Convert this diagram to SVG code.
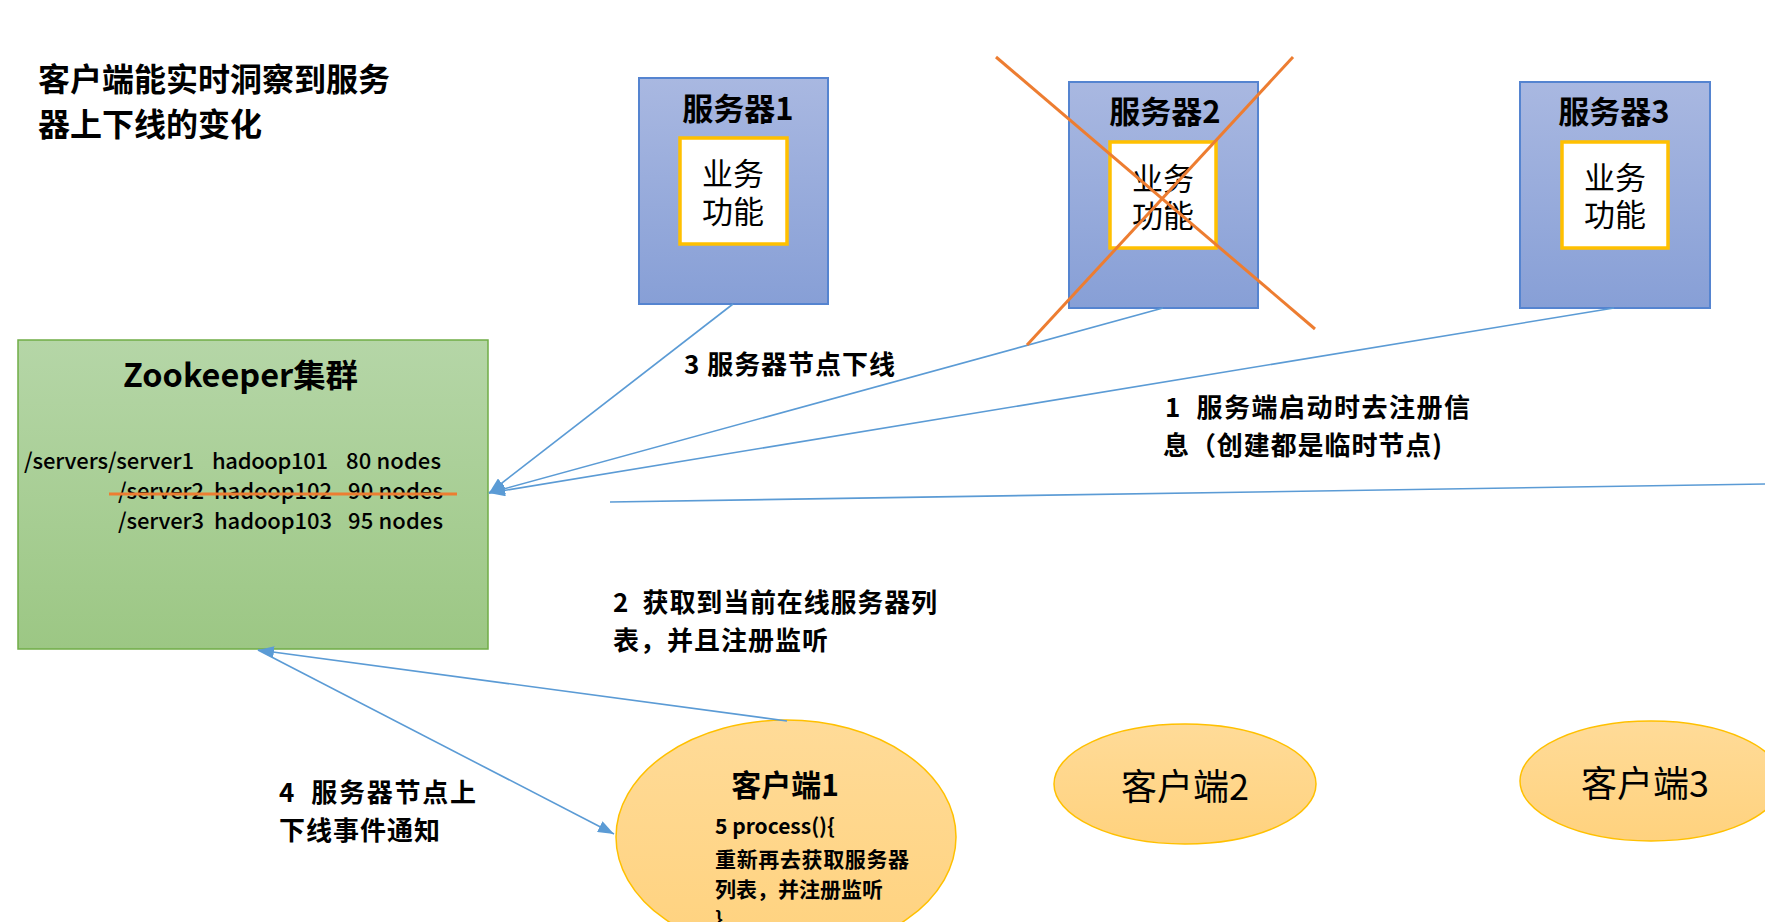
<svg xmlns="http://www.w3.org/2000/svg" width="1765" height="922" viewBox="0 0 1765 922">
<style>
text { font-family: "Noto Sans CJK SC", "Noto Sans", sans-serif; fill: #000; }
.b { font-weight: bold; }
.title { font-size: 32px; font-weight: bold; }
.stitle { font-size: 31px; font-weight: bold; text-anchor: middle; }
.inner { font-size: 31px; text-anchor: middle; }
.lbl { font-size: 26px; font-weight: bold; }
.path { font-size: 22px; font-weight: 500; }
.srv { fill: url(#gBlue); stroke: #5584D0; stroke-width: 2; }
.ibox { fill: #fff; stroke: #FFC000; stroke-width: 3.5; }
.cli { fill: url(#gOrange); stroke: #FFC000; stroke-width: 1.5; }
.con { stroke: #5B9BD5; stroke-width: 1.6; fill: none; }
.cross { stroke: #ED7D31; stroke-width: 3; }
</style>
<defs>
<linearGradient id="gBlue" x1="0" y1="0" x2="0" y2="1"><stop offset="0" stop-color="#A9B8E1"/><stop offset="1" stop-color="#879FD6"/></linearGradient>
<linearGradient id="gGreen" x1="0" y1="0" x2="0" y2="1"><stop offset="0" stop-color="#B5D6A7"/><stop offset="1" stop-color="#9CC784"/></linearGradient>
<linearGradient id="gOrange" x1="0" y1="0" x2="0" y2="1"><stop offset="0" stop-color="#FFDB98"/><stop offset="1" stop-color="#FFD27E"/></linearGradient>
<marker id="arr" viewBox="0 0 16 12" refX="16" refY="6" markerWidth="16" markerHeight="12" markerUnits="userSpaceOnUse" orient="auto"><path d="M0,0 L16,6 L0,12 z" fill="#5B9BD5"/></marker>
</defs>

<g id="title">
<text class="title" x="38" y="91">客户端能实时洞察到服务</text>
<text class="title" x="38" y="136">器上下线的变化</text>
</g>

<g id="server1">
<rect class="srv" x="639" y="78" width="189" height="226"/>
<text class="stitle" x="738" y="120">服务器1</text>
<rect class="ibox" x="680" y="138" width="107" height="106"/>
<text class="inner" x="733" y="185">业务</text>
<text class="inner" x="733" y="223">功能</text>
</g>

<g id="server2">
<rect class="srv" x="1069" y="82" width="189" height="226"/>
<text class="stitle" x="1165" y="123">服务器2</text>
<rect class="ibox" x="1110" y="142" width="106" height="106"/>
<text class="inner" x="1163" y="190">业务</text>
<text class="inner" x="1163" y="227">功能</text>
</g>

<g id="server3">
<rect class="srv" x="1520" y="82" width="190" height="226"/>
<text class="stitle" x="1614" y="123">服务器3</text>
<rect class="ibox" x="1562" y="142" width="106" height="106"/>
<text class="inner" x="1615" y="189">业务</text>
<text class="inner" x="1615" y="226">功能</text>
</g>

<g id="zookeeper">
<rect x="18" y="340" width="470" height="309" fill="url(#gGreen)" stroke="#70AD47" stroke-width="1.5"/>
<text class="b" x="123" y="387" font-size="32" textLength="235" lengthAdjust="spacingAndGlyphs">Zookeeper集群</text>
<text class="path" x="24" y="469" textLength="170">/servers/server1</text>
<text class="path" x="212" y="469" textLength="116">hadoop101</text>
<text class="path" x="346" y="469" textLength="95">80 nodes</text>
<text class="path" x="118" y="499" textLength="86">/server2</text>
<text class="path" x="214" y="499" textLength="118">hadoop102</text>
<text class="path" x="348" y="499" textLength="95">90 nodes</text>
<text class="path" x="118" y="529" textLength="86">/server3</text>
<text class="path" x="214" y="529" textLength="118">hadoop103</text>
<text class="path" x="348" y="529" textLength="95">95 nodes</text>
<line x1="109" y1="494" x2="457" y2="494" stroke="#ED7D31" stroke-width="3"/>
</g>

<g id="client1">
<ellipse class="cli" cx="786" cy="837" rx="170" ry="117"/>
<text class="b" x="785" y="796" font-size="30" text-anchor="middle">客户端1</text>
<text class="b" x="715" y="834" font-size="21">5 process(){</text>
<text class="b" x="715" y="867" font-size="21" textLength="194">重新再去获取服务器</text>
<text class="b" x="715" y="897" font-size="21">列表，并注册监听</text>
<text class="b" x="715" y="927" font-size="21">}</text>
</g>

<g id="client2">
<ellipse class="cli" cx="1185" cy="784" rx="131" ry="60"/>
<text x="1185" y="800" font-size="36" text-anchor="middle">客户端2</text>
</g>

<g id="client3">
<ellipse class="cli" cx="1651" cy="781" rx="131" ry="60"/>
<text x="1645" y="797" font-size="36" text-anchor="middle">客户端3</text>
</g>

<g id="connectors">
<line class="con" x1="733" y1="304" x2="489" y2="493" marker-end="url(#arr)"/>
<line class="con" x1="1163" y1="308" x2="489" y2="493" marker-end="url(#arr)"/>
<line class="con" x1="1614" y1="308" x2="489" y2="493" marker-end="url(#arr)"/>
<line class="con" x1="610" y1="502" x2="1765" y2="484"/>
<line class="con" x1="787" y1="721" x2="258" y2="650" marker-end="url(#arr)"/>
<line class="con" x1="258" y1="650" x2="614" y2="834" marker-end="url(#arr)"/>
</g>

<g id="cross">
<line class="cross" x1="996" y1="57" x2="1315" y2="329"/>
<line class="cross" x1="1293" y1="57" x2="1027" y2="345"/>
</g>

<g id="labels">
<text class="lbl" x="684" y="374" textLength="211">3 服务器节点下线</text>
<text class="lbl" x="1165" y="417" textLength="305" xml:space="preserve">1  服务端启动时去注册信</text>
<text class="lbl" x="1163" y="455" textLength="279">息（创建都是临时节点)</text>
<text class="lbl" x="613" y="612" textLength="324" xml:space="preserve">2  获取到当前在线服务器列</text>
<text class="lbl" x="613" y="650" textLength="215">表，并且注册监听</text>
<text class="lbl" x="279" y="802" textLength="197" xml:space="preserve">4  服务器节点上</text>
<text class="lbl" x="279" y="840" textLength="161">下线事件通知</text>
</g>
</svg>
